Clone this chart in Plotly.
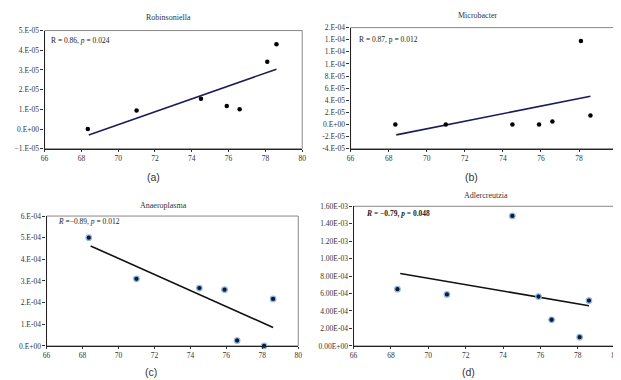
import plotly.graph_objects as go

W, H = 621, 380

# ---- data ----
age = [68.35, 71.0, 74.5, 75.9, 76.6, 78.1, 78.6]
robinsoniella = [0.0, 0.94e-5, 1.54e-5, 1.17e-5, 1.0e-5, 3.42e-5, 4.31e-5]
microbacter = [0.0, 0.0, 0.0, 0.0, 0.5e-5, 1.38e-4, 1.5e-5]
anaeroplasma = [5.0e-4, 3.1e-4, 2.67e-4, 2.6e-4, 0.25e-4, 0.0, 2.17e-4]
adlercreutzia = [6.5e-4, 5.9e-4, 14.9e-4, 5.65e-4, 3.0e-4, 1.0e-4, 5.2e-4]

trend_x_a = [68.4, 78.6]
trend_a = [-0.3e-5, 3.04e-5]
trend_x_b = [68.4, 78.6]
trend_b = [-1.72e-5, 4.66e-5]
trend_x_c = [68.45, 78.6]
trend_c = [4.62e-4, 0.85e-4]
trend_x_d = [68.5, 78.6]
trend_d = [8.3e-4, 4.6e-4]

x_ticks = [66, 68, 70, 72, 74, 76, 78, 80]
yt_a = [-1e-5, 0, 1e-5, 2e-5, 3e-5, 4e-5, 5e-5]
yl_a = ["−1.E-05", "0.E+00", "1.E-05", "2.E-05", "3.E-05", "4.E-05", "5.E-05"]
yt_b = [-4e-5, -2e-5, 0, 2e-5, 4e-5, 6e-5, 8e-5, 1e-4, 1.2e-4, 1.4e-4, 1.6e-4]
yl_b = ["-4.E-05", "-2.E-05", "0.E+00", "2.E-05", "4.E-05", "6.E-05", "8.E-05",
        "1.E-04", "1.E-04", "1.E-04", "2.E-04"]
yt_c = [0, 1e-4, 2e-4, 3e-4, 4e-4, 5e-4, 6e-4]
yl_c = ["0.E+00", "1.E-04", "2.E-04", "3.E-04", "4.E-04", "5.E-04", "6.E-04"]
yt_d = [0, 2e-4, 4e-4, 6e-4, 8e-4, 1.0e-3, 1.2e-3, 1.4e-3, 1.6e-3]
yl_d = ["0.00E+00", "2.00E-04", "4.00E-04", "6.00E-04", "8.00E-04",
        "1.00E-03", "1.20E-03", "1.40E-03", "1.60E-03"]

titles = ["Robinsoniella", "Microbacter", "Anaeroplasma", "Adlercreutzia"]
panel_labels = ["(a)", "(b)", "(c)", "(d)"]
stats = ["R = 0.86, <i>p</i> = 0.024",
         "R = 0.87, p = 0.012",
         "<i>R</i> =−0.89, <i>p</i> = 0.012",
         "<b><i>R</i> = −0.79, <i>p</i> = 0.048</b>"]

SERIF = "Liberation Serif"

def px2x(px):
    return px / W

def py2y(py):
    return 1 - py / H

# panel pixel boxes: left, right, top, bottom
boxes = [(33, 294, 19, 140), (343, 613, 16, 140), (35, 290, 209, 342), (346, 611, 199, 342)]
ranges = [(-1e-5, 5e-5), (-4e-5, 1.6e-4), (0, 6e-4), (0, 1.6e-3)]
yts = [(yt_a, yl_a), (yt_b, yl_b), (yt_c, yl_c), (yt_d, yl_d)]
series = [robinsoniella, microbacter, anaeroplasma, adlercreutzia]
trends = [(trend_x_a, trend_a), (trend_x_b, trend_b), (trend_x_c, trend_c), (trend_x_d, trend_d)]
line_colors = ["#1c1c5a", "#1c1c5a", "#111111", "#111111"]
title_pos = [(159, 6), (472, 4), (153, 198), (480, 188)]
label_pos = [(143, 169), (465, 169), (141, 369), (462, 369)]
stat_pos = [(37, 29), (350, 28), (45, 215), (357, 206)]

fig = go.Figure()
layout = dict(width=W, height=H, margin=dict(l=0, r=0, t=0, b=0),
              paper_bgcolor="white", plot_bgcolor="white", showlegend=False)
annotations = []
shapes = []

for i in range(4):
    n = "" if i == 0 else str(i + 1)
    xa, ya = "x" + n, "y" + n
    L, R, T, B = boxes[i]
    layout["xaxis" + n] = dict(
        domain=[px2x(L), px2x(R)], range=[66, 80], anchor=ya,
        tickvals=x_ticks, ticktext=[str(v) for v in x_ticks],
        ticks="outside", ticklen=2, tickcolor="#333",
        showline=True, linecolor="#222", linewidth=1.2,
        showgrid=False, zeroline=False,
        tickfont=dict(family=SERIF, size=7.5, color="#333"))
    yv, yl = yts[i]
    layout["yaxis" + n] = dict(
        domain=[py2y(B), py2y(T)], range=list(ranges[i]), anchor=xa,
        tickvals=yv, ticktext=yl,
        ticks="outside", ticklen=3, tickcolor="#333",
        showline=True, linecolor="#222", linewidth=1.2,
        showgrid=False, zeroline=False,
        tickfont=dict(family=SERIF, size=7.5, color="#333"))
    # frame box
    shapes.append(dict(type="rect", xref="paper", yref="paper",
                       x0=px2x(L), x1=px2x(R), y0=py2y(B), y1=py2y(T),
                       line=dict(color="#888", width=1), layer="below"))
    tx, ty = trends[i]
    fig.add_trace(go.Scatter(x=tx, y=ty, mode="lines", xaxis=xa, yaxis=ya,
                             line=dict(color=line_colors[i], width=1.6)))
    if i < 2:
        mk = dict(color="black", size=4.5)
    else:
        mk = dict(color="#0d1a3a", size=5.5, line=dict(color="#8fb8e0", width=1.2))
    fig.add_trace(go.Scatter(x=age, y=series[i], mode="markers", xaxis=xa, yaxis=ya,
                             marker=mk, cliponaxis=False))
    annotations.append(dict(text=titles[i], x=px2x(title_pos[i][0]), y=py2y(title_pos[i][1]),
                            xref="paper", yref="paper", showarrow=False,
                            xanchor="center", yanchor="middle",
                            font=dict(family=SERIF, size=8, color="#333")))
    annotations.append(dict(text=panel_labels[i], x=px2x(label_pos[i][0]), y=py2y(label_pos[i][1]),
                            xref="paper", yref="paper", showarrow=False,
                            xanchor="center", yanchor="middle",
                            font=dict(family="Liberation Sans", size=10.5, color="#333")))
    annotations.append(dict(text=stats[i], x=px2x(stat_pos[i][0]), y=py2y(stat_pos[i][1]),
                            xref="paper", yref="paper", showarrow=False,
                            xanchor="left", yanchor="middle",
                            font=dict(family=SERIF, size=7.5, color="#222")))

layout["annotations"] = annotations
layout["shapes"] = shapes
fig.update_layout(**layout)
fig.write_html("out.html")
